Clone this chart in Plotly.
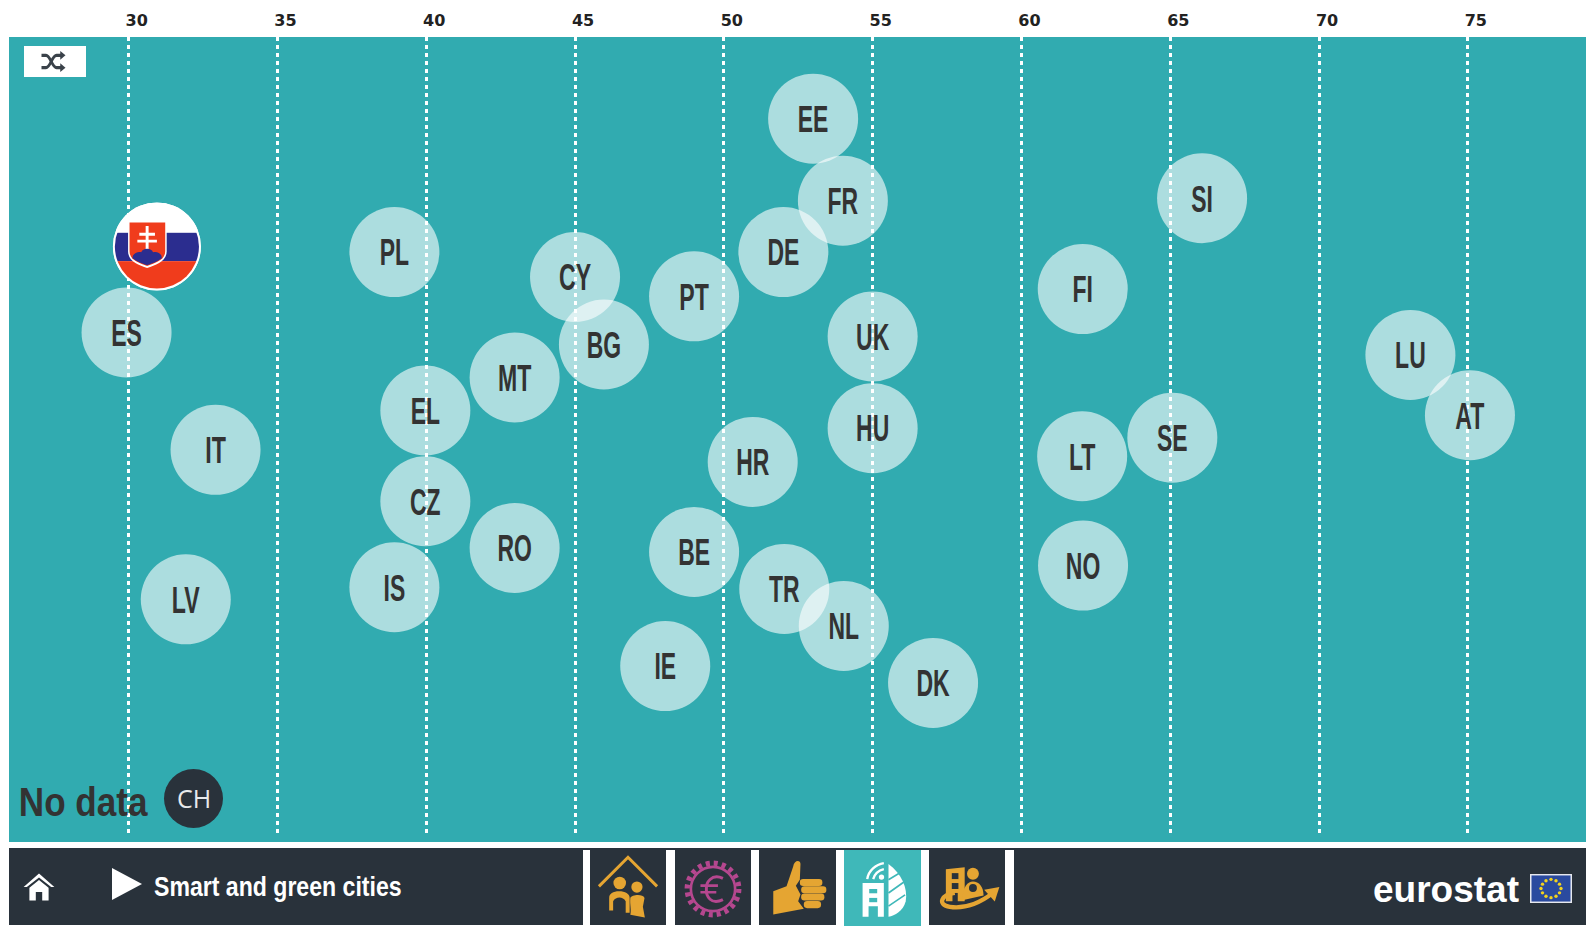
import base64
import plotly.graph_objects as go

W, H = 1586, 930

countries = ["EE","FR","DE","SI","PL","CY","PT","BG","FI","UK","ES","MT","EL","HU","LU","AT",
             "SE","LT","HR","IT","CZ","RO","BE","TR","IS","LV","NO","NL","IE","DK"]
score = [53.0,54.0,52.0,66.07,38.93,45.0,49.0,45.97,62.06,55.0,29.93,42.97,39.97,55.0,73.07,75.07,
         65.07,62.04,50.97,32.92,39.97,42.97,49.0,52.03,38.93,31.92,62.07,54.03,48.03,57.03]
spread = [89.9,79.7,73.3,80.0,73.3,70.2,67.8,61.8,68.7,62.8,63.3,57.7,53.6,51.4,60.5,53.0,
          50.2,47.9,47.2,48.7,42.3,36.5,36.0,31.4,31.6,30.1,34.3,26.8,21.8,19.7]
highlight_name = "SK"
highlight_score = 30.95
highlight_spread = 74.0
tick_values = [30,35,40,45,50,55,60,65,70,75]
tick_labels = ["30","35","40","45","50","55","60","65","70","75"]
no_data_label = "No data"
no_data_country = "CH"
footer_title = "Smart and green cities"
brand = "eurostat"

TEAL = "#31abb0"; DARK = "#29323b"; GOLD = "#e5a532"; PLUM = "#b5478f"; LIGHT = "#3fb8b9"
SANS = "'Liberation Sans', sans-serif"

def px(x): return x / W
def py(y): return 1 - y / H
def uri(svg): return "data:image/svg+xml;base64," + base64.b64encode(svg.encode()).decode()

shapes, images, notes = [], [], []

def rect(x0, y0, x1, y1, color):
    shapes.append(dict(type="rect", xref="paper", yref="paper", x0=px(x0), x1=px(x1),
                       y0=py(y1), y1=py(y0), fillcolor=color, line_width=0, layer="below"))

def icon(body, box, x, y, w, h):
    svg = (f'<svg xmlns="http://www.w3.org/2000/svg" viewBox="{box}" width="{w*4}" height="{h*4}" '
           f'preserveAspectRatio="none">{body}</svg>')
    images.append(dict(source=uri(svg), xref="paper", yref="paper", x=px(x), y=py(y),
                       sizex=w/W, sizey=h/H, xanchor="left", yanchor="top",
                       sizing="stretch", layer="above"))

def note(text, x, y, size, color, family, weight=400, anchor="center"):
    notes.append(dict(text=text, xref="paper", yref="paper", x=px(x), y=py(y), showarrow=False,
                      xanchor=anchor, yanchor="middle",
                      font=dict(size=size, color=color, family=family, weight=weight)))

# teal strip below the dotted lines
rect(9, 836, W, 842, TEAL)

# footer
rect(9, 848, W, 925, DARK)
for a, b in [(583, 590), (666, 675), (751, 759), (836, 844), (921, 929), (1005, 1014)]:
    rect(a, 850, b, 926, "#ffffff")
rect(844, 850, 921, 926, LIGHT)

# shuffle button
rect(24, 46, 86, 77, "#ffffff")
icon('<g fill="none" stroke="#3a424a" stroke-width="3.6">'
     '<path d="M2 6 H8 C14 6 16 20 22 20 H28"/><path d="M2 20 H8 C14 20 16 6 22 6 H28"/></g>'
     '<g fill="#3a424a"><path d="M27 1 L34 6 L27 11Z"/><path d="M27 15 L34 20 L27 25Z"/></g>',
     "0 0 36 26", 40, 50, 27, 23)

# Slovak flag on the highlighted point
flag = ('<defs><clipPath id="c"><circle cx="45" cy="45" r="43"/></clipPath></defs>'
        '<circle cx="45" cy="45" r="45" fill="#fff"/>'
        '<g clip-path="url(#c)"><rect width="90" height="31" fill="#fff"/>'
        '<rect y="31" width="90" height="29" fill="#2b2d8f"/>'
        '<rect y="60" width="90" height="30" fill="#f03c1c"/></g>'
        '<path d="M15.5 19 H55 V50 C55 60 44 64 35 67 C26 64 15.5 60 15.5 50Z" fill="#fff"/>'
        '<path d="M17 20.5 H53.5 V50 C53.5 59 43 62 35 65 C27 62 17 59 17 50Z" fill="#f03c1c"/>'
        '<path d="M33.5 24 H36.5 V31 H43 V34 H36.5 V38 H45 V41 H36.5 V48 H33.5 V41 H25 V38 H33.5 V34 H27 V31 H33.5Z" fill="#fff"/>'
        '<path d="M20 57 C20 51 27 50 29 51 C30 46 40 46 41 51 C44 50 50 51 50 57 C46 60 39 63 35 64 C31 63 24 60 20 57Z" fill="#2b2d8f"/>')
svg = (f'<svg xmlns="http://www.w3.org/2000/svg" viewBox="0 0 90 90" width="360" height="360" '
       f'preserveAspectRatio="none">{flag}</svg>')
images.append(dict(source=uri(svg), xref="x", yref="y", x=highlight_score, y=highlight_spread,
                   sizex=88/29.76, sizey=88/8.04, xanchor="center", yanchor="middle",
                   sizing="stretch", layer="above"))

# no-data area
note(no_data_label, 83.5, 802, 41, "#333333", SANS, 700)
shapes.append(dict(type="circle", xref="paper", yref="paper", x0=px(164), x1=px(223),
                   y0=py(828), y1=py(769), fillcolor=DARK, line_width=0, layer="below"))
note(no_data_country, 193.5, 798, 25, "#e8eaec", "'Open Sans'", 400)

# footer content
icon('<path d="M50 8 L2 50 L12 50 L50 20 L88 50 L98 50Z" fill="#fff"/>'
     '<path d="M50 28 L20 52 V92 H40 V66 H60 V92 H80 V52Z" fill="#fff"/>',
     "0 0 100 100", 23, 871, 32, 32)
icon('<path d="M0 0 L30 16 L0 32Z" fill="#fff"/>', "0 0 30 32", 112, 868, 30, 32)
note(footer_title, 277.5, 887, 27, "#ffffff", SANS, 700)
note(brand, 1371, 889, 37, "#ffffff", SANS, 700, "left")

# tile icons, drawn in tile-local coordinates
icon(f'<path d="M57 170 L145 82 L233 170" fill="none" stroke="{GOLD}" stroke-width="9"/>'
     f'<g fill="{GOLD}"><circle cx="120" cy="160" r="19"/><circle cx="172" cy="172" r="17"/>'
     '<path d="M88 243 V205 C88 192 100 185 118 185 C136 185 150 192 150 205 V250 H138 V215 C130 200 108 200 100 215 V243Z"/>'
     '<path d="M152 205 C156 195 190 192 195 205 L190 232 L196 264 L152 256 C156 240 150 225 152 205Z"/></g>',
     "30 60 230 230", 590, 850, 76, 76)
icon(f'<circle cx="400" cy="178" r="78" fill="none" stroke="{PLUM}" stroke-width="16" stroke-dasharray="12.3 12.2"/>'
     f'<circle cx="400" cy="178" r="67" fill="none" stroke="{PLUM}" stroke-width="8"/>'
     f'<path d="M430 146 C395 130 378 160 380 178 C378 200 395 228 430 210" fill="none" stroke="{PLUM}" stroke-width="9"/>'
     f'<path d="M362 168 H415 M362 188 H410" stroke="{PLUM}" stroke-width="8"/>',
     "285 60 230 230", 675, 850, 76, 76)
icon(f'<g fill="{GOLD}"><path d="M580 185 L620 170 L640 110 C642 90 662 88 662 102 L660 150 L648 168 L662 195 L655 215 L672 238 L580 255Z"/>'
     '<rect x="660" y="148" width="68" height="21" rx="10"/><rect x="664" y="170" width="76" height="21" rx="10"/>'
     '<rect x="664" y="192" width="70" height="21" rx="10"/><rect x="672" y="214" width="52" height="22" rx="10"/></g>',
     "537 60 232 230", 759, 850, 77, 76)
icon('<g fill="#fff"><path d="M848 160 H912 V262 H894 V230 H866 V262 H848Z"/>'
     '<path d="M926 102 C965 130 985 175 978 215 C970 245 945 258 926 262Z"/>'
     '<circle cx="905" cy="142" r="8"/></g>'
     f'<g fill="{LIGHT}"><rect x="868" y="178" width="24" height="13"/><rect x="868" y="205" width="24" height="13"/></g>'
     '<g fill="none" stroke="#fff" stroke-width="7"><path d="M862 148 C866 122 888 104 912 100"/><path d="M880 148 C884 134 896 122 912 118"/></g>'
     f'<path d="M926 150 L972 122 M926 190 L982 150 M926 230 L976 196" stroke="{LIGHT}" stroke-width="5"/>',
     "792 60 232 230", 844, 850, 77, 76)
icon(f'<g fill="{GOLD}"><path d="M1098 118 L1155 112 V215 H1098Z"/><circle cx="1180" cy="132" r="18"/>'
     '<path d="M1148 212 C1148 170 1165 155 1180 155 C1198 155 1212 170 1212 198Z"/></g>'
     f'<g fill="{DARK}"><rect x="1116" y="130" width="20" height="18"/><rect x="1116" y="160" width="20" height="18"/>'
     '<circle cx="1180" cy="175" r="12"/><rect x="1118" y="190" width="16" height="30"/></g>'
     f'<path d="M1125 190 C1085 195 1070 225 1110 232 C1160 240 1210 215 1240 190" fill="none" stroke="{GOLD}" stroke-width="13"/>'
     f'<path d="M1214 180 L1260 172 L1246 216Z" fill="{GOLD}"/>',
     "1047 60 230 230", 929, 850, 76, 76)

# EU flag
stars = "".join(f'<circle cx="{x}" cy="{y}" r="1.7" fill="#f2d21f"/>' for x, y in
                [(21,5.5),(26,7),(29.5,10.5),(31,15),(29.5,19.5),(26,23),(21,24.5),(16,23),(12.5,19.5),(11,15),(12.5,10.5),(16,7)])
icon(f'<rect width="42" height="30" fill="#e6e8ee"/><rect x="1.5" y="1.5" width="39" height="27" fill="#2a4a9f"/>{stars}',
     "0 0 42 30", 1530, 874, 42, 29)

fig = go.Figure()
fig.add_trace(go.Scatter(
    x=score, y=spread, text=countries, mode="markers+text", textposition="middle center",
    marker=dict(size=90, color="rgba(255,255,255,0.6)", line_width=0),
    textfont=dict(size=37, color="#333333", family=SANS, weight=700),
    hoverinfo="text", showlegend=False))
fig.add_trace(go.Scatter(
    x=[highlight_score], y=[highlight_spread], text=[highlight_name], mode="markers",
    marker=dict(size=88, color="#ffffff", line_width=0), hoverinfo="text", showlegend=False))

fig.update_layout(
    width=W, height=H, autosize=False, margin=dict(l=0, r=0, t=0, b=0),
    paper_bgcolor="#ffffff", plot_bgcolor=TEAL, showlegend=False,
    xaxis=dict(domain=[9/W, 1], range=[25.98, 78.97], side="top", anchor="y",
               tickmode="array", tickvals=tick_values, ticktext=tick_labels,
               showgrid=True, gridcolor="#ffffff", gridwidth=2.5, griddash="4px,4px",
               zeroline=False, showline=False, ticks="", ticklabelshift=8, ticklabelstandoff=7,
               tickfont=dict(size=16, color="#222222", family="'DejaVu Sans'", weight=700)),
    yaxis=dict(domain=[1-836/H, 1-37/H], range=[0.66, 100.06], visible=False, showgrid=False,
               zeroline=False),
    shapes=shapes, images=images, annotations=notes,
)

# The reference uses a condensed face that is not installed: narrow the real text glyphs.
post = """
function condense(){
  var factors={'No data':0.85,'Smart and green cities':0.855};
  document.querySelectorAll('.textpoint text').forEach(function(t){
    if(t.dataset.done)return;
    t.setAttribute('textLength',t.getBBox().width*0.62);
    t.setAttribute('lengthAdjust','spacingAndGlyphs');
    t.setAttribute('dy','4');
    t.dataset.done='1';
  });
  document.querySelectorAll('.annotation-text').forEach(function(t){
    var f=factors[t.textContent];
    if(!f||t.dataset.done)return;
    t.setAttribute('textLength',t.getBBox().width*f);
    t.setAttribute('lengthAdjust','spacingAndGlyphs');
    t.dataset.done='1';
  });
}
document.body.style.margin='0';document.body.style.overflow='hidden';
condense();setTimeout(condense,100);setTimeout(condense,600);
"""
fig.write_html("out.html", config=dict(displayModeBar=False), post_script=post)
